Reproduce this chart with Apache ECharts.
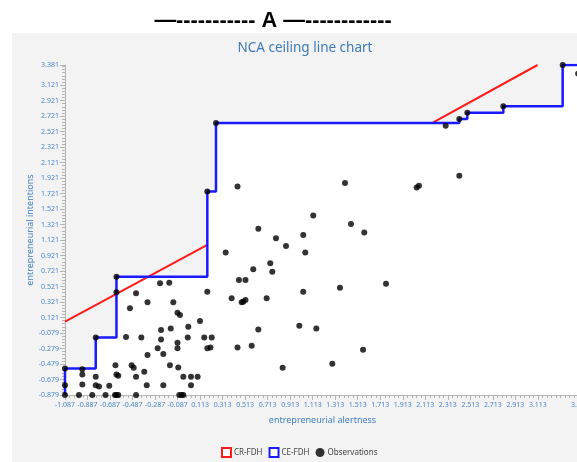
<!DOCTYPE html>
<html>
<head>
<meta charset="utf-8">
<script src="https://cdn.jsdelivr.net/npm/echarts@6/dist/echarts.min.js"></script>
<style>
html,body{margin:0;padding:0;background:#fff;}
#c{width:577px;height:462px;}
</style>
</head>
<body>
<div id="c"></div>
<script>
// ---- Data ----
var xTicks = [-1.087, -0.887, -0.687, -0.487, -0.287, -0.087, 0.113, 0.313, 0.513, 0.713, 0.913, 1.113, 1.313, 1.513, 1.713, 1.913, 2.113, 2.313, 2.513, 2.713, 2.913, 3.113, 3.487];
var yTicks = [-0.879, -0.679, -0.479, -0.279, -0.079, 0.121, 0.321, 0.521, 0.721, 0.921, 1.121, 1.321, 1.521, 1.721, 1.921, 2.121, 2.321, 2.521, 2.721, 2.921, 3.121, 3.381];

var ceX = [-1.087, -1.087, -0.814, -0.814, -0.630, -0.630, 0.177, 0.177, 0.254, 0.254, 2.415, 2.415, 2.486, 2.486, 2.806, 2.806, 3.333, 3.333, 3.487];
var ceY = [-0.879, -0.536, -0.536, -0.138, -0.138, 0.649, 0.649, 1.748, 1.748, 2.633, 2.633, 2.685, 2.685, 2.763, 2.763, 2.848, 2.848, 3.381, 3.381];

var crX = [-1.087, 0.177, null, 2.184, 3.110];
var crY = [0.067, 1.060, null, 2.640, 3.381];

var obsX = [-1.087, -1.087, -1.087, -0.963, -0.933, -0.933, -0.933, -0.845, -0.814, -0.814,
  -0.814, -0.785, -0.727, -0.694, -0.639, -0.630, -0.630, -0.630, -0.614, -0.643,
  -0.630, -0.614, -0.545, -0.510, -0.495, -0.477, -0.456, -0.456, -0.456, -0.409,
  -0.383, -0.361, -0.354, -0.354, -0.264, -0.243, -0.234, -0.234, -0.214, -0.214,
  -0.161, -0.155, -0.148, -0.125, -0.088, -0.088, -0.088, -0.081, -0.066, -0.072,
  -0.051, -0.036, -0.036, 0.008, 0.003, 0.032, 0.032, 0.091, 0.112, 0.150,
  0.216, 0.177, 0.205, 0.177, 0.177, 0.254, 0.340, 0.393, 0.445, 0.445,
  0.458, 0.482, 0.496, 0.516, 0.516, 0.571, 0.585, 0.630, 0.630, 0.704,
  0.736, 0.754, 0.787, 0.846, 0.876, 0.994, 1.029, 1.029, 1.047, 1.118,
  1.145, 1.287, 1.355, 1.400, 1.453, 1.560, 1.571, 1.764, 2.036, 2.057,
  2.294, 2.415, 2.415, 2.486, 2.806, 3.333, 3.470];
var obsY = [-0.536, -0.752, -0.879, -0.879, -0.545, -0.614, -0.745, -0.879, -0.138, -0.645,
  -0.752, -0.769, -0.879, -0.760, -0.494, 0.649, 0.447, -0.614, -0.631, -0.879,
  -0.879, -0.879, -0.130, 0.240, -0.494, -0.526, 0.434, -0.645, -0.879, -0.138,
  -0.580, -0.752, 0.318, -0.364, -0.277, 0.563, -0.041, -0.161, -0.351, -0.752,
  0.571, -0.494, -0.019, 0.318, 0.183, -0.205, -0.277, -0.523, 0.153, -0.879,
  -0.879, -0.879, -0.645, 0.002, -0.138, -0.645, -0.752, -0.645, 0.076, -0.138,
  -0.138, -0.277, -0.267, 0.455, 1.748, 2.633, 0.959, 0.369, 1.813, -0.267,
  0.606, 0.318, 0.325, 0.347, 0.606, -0.244, 0.745, 1.266, -0.032, 0.369,
  0.822, 0.713, 1.146, -0.526, 1.046, 0.015, 1.188, 0.455, 0.959, 1.438,
  -0.019, -0.477, 0.506, 1.857, 1.327, -0.296, 1.218, 0.558, 1.800, 1.822,
  2.598, 1.952, 2.685, 2.763, 2.848, 3.381, 3.270];

// ---- Build ----
function zip(a, b) { var r = []; for (var i = 0; i < a.length; i++) r.push(a[i] === null ? [null, null] : [a[i], b[i]]); return r; }
var xMin = xTicks[0], xMax = xTicks[xTicks.length - 1];
var yMin = yTicks[0], yMax = yTicks[yTicks.length - 1];
function minor(lo, hi, step) { var r = []; for (var v = lo; v <= hi + 1e-9; v += step) r.push(+v.toFixed(4)); return r; }
var xMinor = minor(xMin, xMax, 0.04);
var yMinor = minor(yMin, yMax, 0.04);

var labelColor = '#4a86c8';
var axisGray = '#b4b4b4';
var FONT = 'Noto Sans';

var chart = echarts.init(document.getElementById('c'), null, {renderer: 'canvas'});
chart.setOption({
  animation: false,
  backgroundColor: '#ffffff',
  textStyle: {fontFamily: FONT},
  graphic: [
    {type: 'rect', z: -100, shape: {x: 12, y: 33, width: 570, height: 440}, style: {fill: '#f3f3f3'}, silent: true},
    {type: 'text', x: 273, y: 21, style: {text: '\u2014----------- A \u2014------------', font: 'bold 21.7px "Liberation Sans"', fill: '#000', align: 'center', verticalAlign: 'middle'}},
    {type: 'text', x: 305, y: 48, style: {text: 'NCA ceiling line chart', font: '13.5px "Noto Sans"', fill: '#3d7ab8', align: 'center', verticalAlign: 'middle'}}
  ],
  grid: {left: 65, top: 65, width: 515, height: 330, containLabel: false, outerBoundsMode: 'none'},
  legend: {
    left: 216, top: 442, itemWidth: 9, itemHeight: 9, itemGap: 6,
    textStyle: {fontSize: 8, color: '#444', fontFamily: FONT, padding: [0, 0, 0, -2]},
    data: [
      {name: 'CR-FDH', icon: 'rect', itemStyle: {color: '#fff', borderColor: '#ff1a1a', borderWidth: 2}},
      {name: 'CE-FDH', icon: 'rect', itemStyle: {color: '#fff', borderColor: '#1a1aff', borderWidth: 2}},
      {name: 'Observations', icon: 'circle', itemStyle: {color: '#000'}}
    ]
  },
  xAxis: [{
    type: 'value', min: xMin, max: xMax, position: 'bottom',
    axisLine: {show: true, onZero: false, lineStyle: {color: axisGray}},
    axisTick: {show: true, customValues: xMinor, length: 3, lineStyle: {color: axisGray}},
    axisLabel: {customValues: xTicks, formatter: function (v) { return v.toFixed(3); }, color: labelColor, fontSize: 7, margin: 6, fontFamily: FONT},
    splitLine: {show: false},
    name: 'entrepreneurial alertness', nameLocation: 'middle', nameGap: 21, nameMoveOverlap: false,
    nameTextStyle: {color: '#3f7fbf', fontSize: 9, fontFamily: FONT}
  }, {
    type: 'value', min: xMin, max: xMax, position: 'bottom',
    axisLine: {show: false, onZero: false},
    axisTick: {show: true, customValues: xTicks, length: 5, lineStyle: {color: axisGray}},
    axisLabel: {show: false}, splitLine: {show: false}
  }],
  yAxis: [{
    type: 'value', min: yMin, max: yMax, position: 'left',
    axisLine: {show: true, onZero: false, lineStyle: {color: axisGray}},
    axisTick: {show: true, customValues: yMinor, length: 3, lineStyle: {color: axisGray}},
    axisLabel: {customValues: yTicks, formatter: function (v) { return v.toFixed(3); }, color: labelColor, fontSize: 7, margin: 6, fontFamily: FONT},
    splitLine: {show: false},
    name: 'entrepreneurial intentions', nameLocation: 'middle', nameGap: 30, nameMoveOverlap: false,
    nameTextStyle: {color: '#3f7fbf', fontSize: 9, fontFamily: FONT}
  }, {
    type: 'value', min: yMin, max: yMax, position: 'left',
    axisLine: {show: false, onZero: false},
    axisTick: {show: true, customValues: yTicks, length: 5, lineStyle: {color: axisGray}},
    axisLabel: {show: false}, splitLine: {show: false}
  }],
  series: [
    {name: 'ceArea', type: 'line', data: zip(ceX, ceY), symbol: 'none', z: 1, silent: true,
      lineStyle: {width: 0, opacity: 0}, areaStyle: {color: '#ffffff', opacity: 1, origin: 'start'}},
    {name: 'CR-FDH', type: 'line', data: zip(crX, crY), symbol: 'none', z: 2, connectNulls: false,
      lineStyle: {color: '#ff1a1a', width: 2}, itemStyle: {color: '#ff1a1a'}},
    {name: 'CE-FDH', type: 'line', data: zip(ceX, ceY), symbol: 'none', z: 3,
      lineStyle: {color: '#1a1aff', width: 2.5}, itemStyle: {color: '#1a1aff'}},
    {name: 'Observations', type: 'scatter', data: zip(obsX, obsY), symbol: 'circle', symbolSize: 6, z: 4,
      itemStyle: {color: '#000'}}
  ]
});
</script>
</body>
</html>
